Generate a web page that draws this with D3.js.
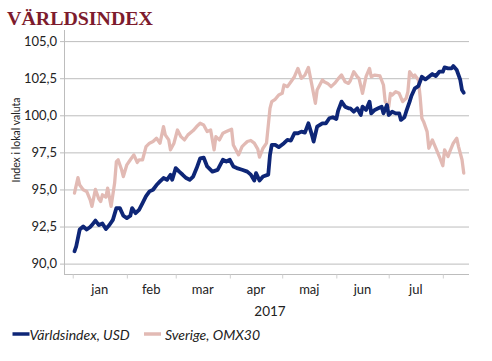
<!DOCTYPE html>
<html>
<head>
<meta charset="utf-8">
<script src="https://cdn.jsdelivr.net/npm/d3@7"></script>
<style>
  body { margin: 0; background: #fff; }
  svg { display: block; }
</style>
</head>
<body>
<div id="chart"></div>
<script>
var width = 492;
var height = 361;

// Världsindex, USD
var worldDates = ["01-02","01-03","01-05","01-07","01-09","01-11","01-12","01-14","01-16","01-18",
  "01-20","01-22","01-24","01-26","01-28","01-30","02-01","02-03","02-04","02-06",
  "02-08","02-10","02-12","02-14","02-16","02-18","02-20","02-22","02-24","02-26",
  "02-27","03-01","03-03","03-05","03-07","03-09","03-11","03-13","03-15","03-17",
  "03-19","03-22","03-25","03-28","03-30","04-01","04-03","04-05","04-08","04-11",
  "04-13","04-15","04-16","04-18","04-20","04-23","04-24","04-25","04-27","04-29",
  "05-02","05-04","05-06","05-08","05-10","05-12","05-14","05-16","05-18","05-19",
  "05-21","05-24","05-26","05-28","05-30","06-01","06-02","06-04","06-06","06-08",
  "06-09","06-11","06-13","06-15","06-16","06-18","06-20","06-21","06-23","06-25",
  "06-27","06-28","06-30","07-01","07-03","07-05","07-07","07-08","07-10","07-11",
  "07-13","07-14","07-16","07-18","07-20","07-22","07-24","07-26","07-28","07-30",
  "08-01","08-02","08-04","08-06","08-07","08-09","08-11","08-12","08-13"];
var worldValues = [90.83, 91.17, 92.3, 92.5, 92.3, 92.47, 92.6, 92.9, 92.6, 92.7,
  92.33, 92.6, 92.95, 93.74, 93.74, 93.23, 93.07, 93.23, 93.74, 93.4,
  93.63, 94.08, 94.55, 94.87, 94.98, 95.3, 95.54, 95.77, 95.65, 95.99,
  95.65, 96.44, 96.2, 95.99, 95.77, 95.65, 95.87, 96.44, 97.1, 97.15,
  96.55, 96.2, 96.32, 97.0, 96.88, 97.0, 96.55, 96.44, 96.33, 96.2,
  96.0, 95.6, 96.1, 95.6, 95.87, 96.0, 97.33, 98.0, 98.0, 97.85,
  98.12, 98.34, 98.3, 98.79, 98.79, 98.9, 98.83, 99.46, 98.68, 98.23,
  99.24, 99.46, 99.46, 99.8, 99.87, 99.75, 100.3, 100.92, 100.58, 100.47,
  100.47, 100.24, 100.47, 100.02, 100.58, 100.36, 100.92, 100.13, 100.36, 100.47,
  100.58, 100.13, 100.7, 100.02, 100.24, 100.13, 100.13, 99.69, 99.87, 100.24,
  100.92, 101.3, 101.82, 101.97, 102.6, 102.42, 102.6, 102.78, 102.65, 102.94,
  102.94, 103.23, 103.16, 103.16, 103.32, 103.05, 102.38, 101.7, 101.52];

// Sverige, OMX30
var swedenDates = ["01-02","01-04","01-05","01-07","01-09","01-11","01-12","01-14","01-16","01-17",
  "01-18","01-20","01-21","01-23","01-25","01-26","01-27","01-29","01-30","02-01",
  "02-03","02-05","02-07","02-08","02-10","02-12","02-14","02-16","02-18","02-20",
  "02-22","02-23","02-25","02-26","02-28","03-02","03-04","03-06","03-08","03-11",
  "03-13","03-15","03-17","03-19","03-21","03-23","03-24","03-26","03-28","03-30",
  "04-02","04-03","04-06","04-08","04-10","04-11","04-13","04-15","04-17","04-18",
  "04-20","04-22","04-24","04-25","04-27","04-29","05-01","05-02","05-04","05-06",
  "05-08","05-10","05-12","05-14","05-16","05-18","05-20","05-21","05-24","05-25",
  "05-27","05-29","05-31","06-02","06-04","06-06","06-08","06-09","06-11","06-13",
  "06-14","06-16","06-18","06-20","06-21","06-23","06-26","06-28","06-29","07-01",
  "07-02","07-03","07-05","07-07","07-09","07-11","07-12","07-13","07-15","07-16",
  "07-18","07-19","07-20","07-21","07-23","07-24","07-26","07-28","07-30","08-01",
  "08-02","08-04","08-05","08-07","08-09","08-10","08-12","08-13"];
var swedenValues = [94.75, 95.8, 95.3, 94.98, 94.87, 94.3, 93.86, 95.0, 94.35, 94.19,
  94.64, 94.48, 95.09, 93.86, 95.43, 96.88, 97.0, 96.33, 95.87, 96.66,
  97.0, 97.33, 96.82, 97.0, 97.0, 97.89, 98.12, 98.23, 98.45, 98.12,
  99.24, 98.68, 98.34, 97.67, 98.12, 99.01, 98.56, 98.34, 98.68, 98.97,
  99.24, 99.46, 99.35, 98.9, 99.01, 97.67, 98.56, 98.34, 98.79, 98.9,
  99.06, 98.0, 97.33, 97.89, 98.12, 98.23, 98.3, 98.12, 97.72, 97.18,
  97.78, 98.12, 100.47, 100.92, 101.08, 101.37, 101.48, 102.04, 101.93, 102.26,
  102.6, 103.16, 102.49, 102.71, 103.23, 102.04, 100.81, 101.7, 102.38, 102.26,
  102.15, 101.93, 102.15, 102.45, 102.72, 102.26, 102.15, 102.33, 102.94, 102.6,
  102.49, 101.48, 102.6, 103.16, 102.6, 102.71, 102.65, 102.04, 100.92, 100.58,
  101.48, 101.37, 101.59, 101.48, 100.92, 101.15, 101.59, 102.94, 102.6, 102.71,
  102.38, 101.26, 99.8, 99.57, 98.9, 97.78, 98.34, 97.78, 97.22, 96.6,
  97.67, 97.22, 97.55, 98.12, 98.45, 97.89, 97.0, 96.1];

var yTicks = [90, 92.5, 95, 97.5, 100, 102.5, 105];
var monthStarts = ["2017-01-01","2017-02-01","2017-03-01","2017-04-01","2017-05-01","2017-06-01","2017-07-01","2017-08-01"];
var monthLabels = ["jan","feb","mar","apr","maj","jun","jul"];
var seriesNames = ["Världsindex, USD", "Sverige, OMX30"];
var colors = ["#0e2677", "#e2bab4"];

var parseDay = d3.timeParse("%Y-%m-%d");
var fmt = d3.format(".1f");
var tickFont = "Lato, 'Open Sans', sans-serif";

function makeSeries(dates, values) {
    var out = [];
    var n = Math.min(dates.length, values.length);
    for (var i = 0; i < n; i++) {
        out.push({date: parseDay("2017-" + dates[i]), value: values[i]});
    }
    return out;
}
var world = makeSeries(worldDates, worldValues);
var sweden = makeSeries(swedenDates, swedenValues);
var months = monthStarts.map(parseDay);

var svg = d3.select("#chart").append("svg")
    .attr("width", width)
    .attr("height", height);

var xScale = d3.scaleTime()
    .domain([parseDay("2016-12-27"), parseDay("2017-08-16")])
    .range([64, 469]);
var yScale = d3.scaleLinear()
    .domain([89.3, 105.75])
    .range([274, 30]);

// title
svg.append("text")
    .attr("x", 7)
    .attr("y", 25)
    .attr("font-family", "'Liberation Serif', 'DejaVu Serif', serif")
    .attr("font-weight", "bold")
    .attr("font-size", 19)
    .attr("textLength", 146)
    .attr("lengthAdjust", "spacingAndGlyphs")
    .attr("fill", "#7d1b2d")
    .text("VÄRLDSINDEX");

// gridlines
svg.append("g")
    .selectAll("line")
    .data(yTicks)
    .enter()
    .append("line")
    .attr("x1", 60)
    .attr("x2", xScale.range()[1])
    .attr("y1", function(d) { return yScale(d) + 0.5; })
    .attr("y2", function(d) { return yScale(d) + 0.5; })
    .attr("stroke", "#bdbdbd")
    .attr("stroke-width", 1);

// y axis line
svg.append("line")
    .attr("x1", 64.5).attr("x2", 64.5)
    .attr("y1", yScale.range()[1]).attr("y2", yScale.range()[0])
    .attr("stroke", "#bdbdbd");

// y tick labels
svg.append("g")
    .selectAll("text")
    .data(yTicks)
    .enter()
    .append("text")
    .attr("x", 57)
    .attr("y", function(d) { return yScale(d) + 4.5; })
    .attr("text-anchor", "end")
    .attr("font-family", tickFont)
    .attr("font-size", 13)
    .attr("fill", "#222")
    .text(function(d) { return fmt(d).replace(".", ","); });

// y axis title
svg.append("text")
    .attr("transform", "translate(20,140) rotate(-90)")
    .attr("text-anchor", "middle")
    .attr("font-family", tickFont)
    .attr("font-size", 10.5)
    .attr("fill", "#222")
    .text("Index i lokal valuta");

// x axis
var xAxis = d3.axisBottom(xScale)
    .tickValues(months)
    .tickSize(4)
    .tickFormat("");
var gx = svg.append("g")
    .attr("transform", "translate(0," + (yScale.range()[0] + 0.5) + ")")
    .call(xAxis);
gx.select(".domain").attr("stroke", "#bdbdbd").attr("d", "M64,0H469");
gx.selectAll(".tick line").attr("stroke", "#d0d0d0");

// month labels, centred in each month
svg.append("g")
    .selectAll("text")
    .data(monthLabels)
    .enter()
    .append("text")
    .attr("x", function(d, i) { return (xScale(months[i]) + xScale(months[i + 1])) / 2; })
    .attr("y", 294)
    .attr("text-anchor", "middle")
    .attr("font-family", tickFont)
    .attr("font-size", 13)
    .attr("fill", "#222")
    .text(function(d) { return d; });

svg.append("text")
    .attr("x", 270)
    .attr("y", 316)
    .attr("text-anchor", "middle")
    .attr("font-family", tickFont)
    .attr("font-size", 13.5)
    .attr("fill", "#222")
    .text("2017");

// lines
var line = d3.line()
    .x(function(d) { return xScale(d.date); })
    .y(function(d) { return yScale(d.value); });

svg.append("path")
    .datum(sweden)
    .attr("d", line)
    .attr("fill", "none")
    .attr("stroke", colors[1])
    .attr("stroke-width", 3.3)
    .attr("stroke-linejoin", "round")
    .attr("stroke-linecap", "round");

svg.append("path")
    .datum(world)
    .attr("d", line)
    .attr("fill", "none")
    .attr("stroke", colors[0])
    .attr("stroke-width", 3.8)
    .attr("stroke-linejoin", "round")
    .attr("stroke-linecap", "round");

// legend
var legendX = [12.5, 144];
var legendTextX = [29.5, 165];
var legend = svg.append("g");
seriesNames.forEach(function(name, i) {
    legend.append("line")
        .attr("x1", legendX[i]).attr("x2", legendX[i] + 17)
        .attr("y1", 334).attr("y2", 334)
        .attr("stroke", colors[i])
        .attr("stroke-width", 3.5);
    legend.append("text")
        .attr("x", legendTextX[i])
        .attr("y", 339.5)
        .attr("font-family", tickFont)
        .attr("font-style", "italic")
        .attr("font-size", 14)
        .attr("fill", "#222")
        .text(name);
});
</script>
</body>
</html>
